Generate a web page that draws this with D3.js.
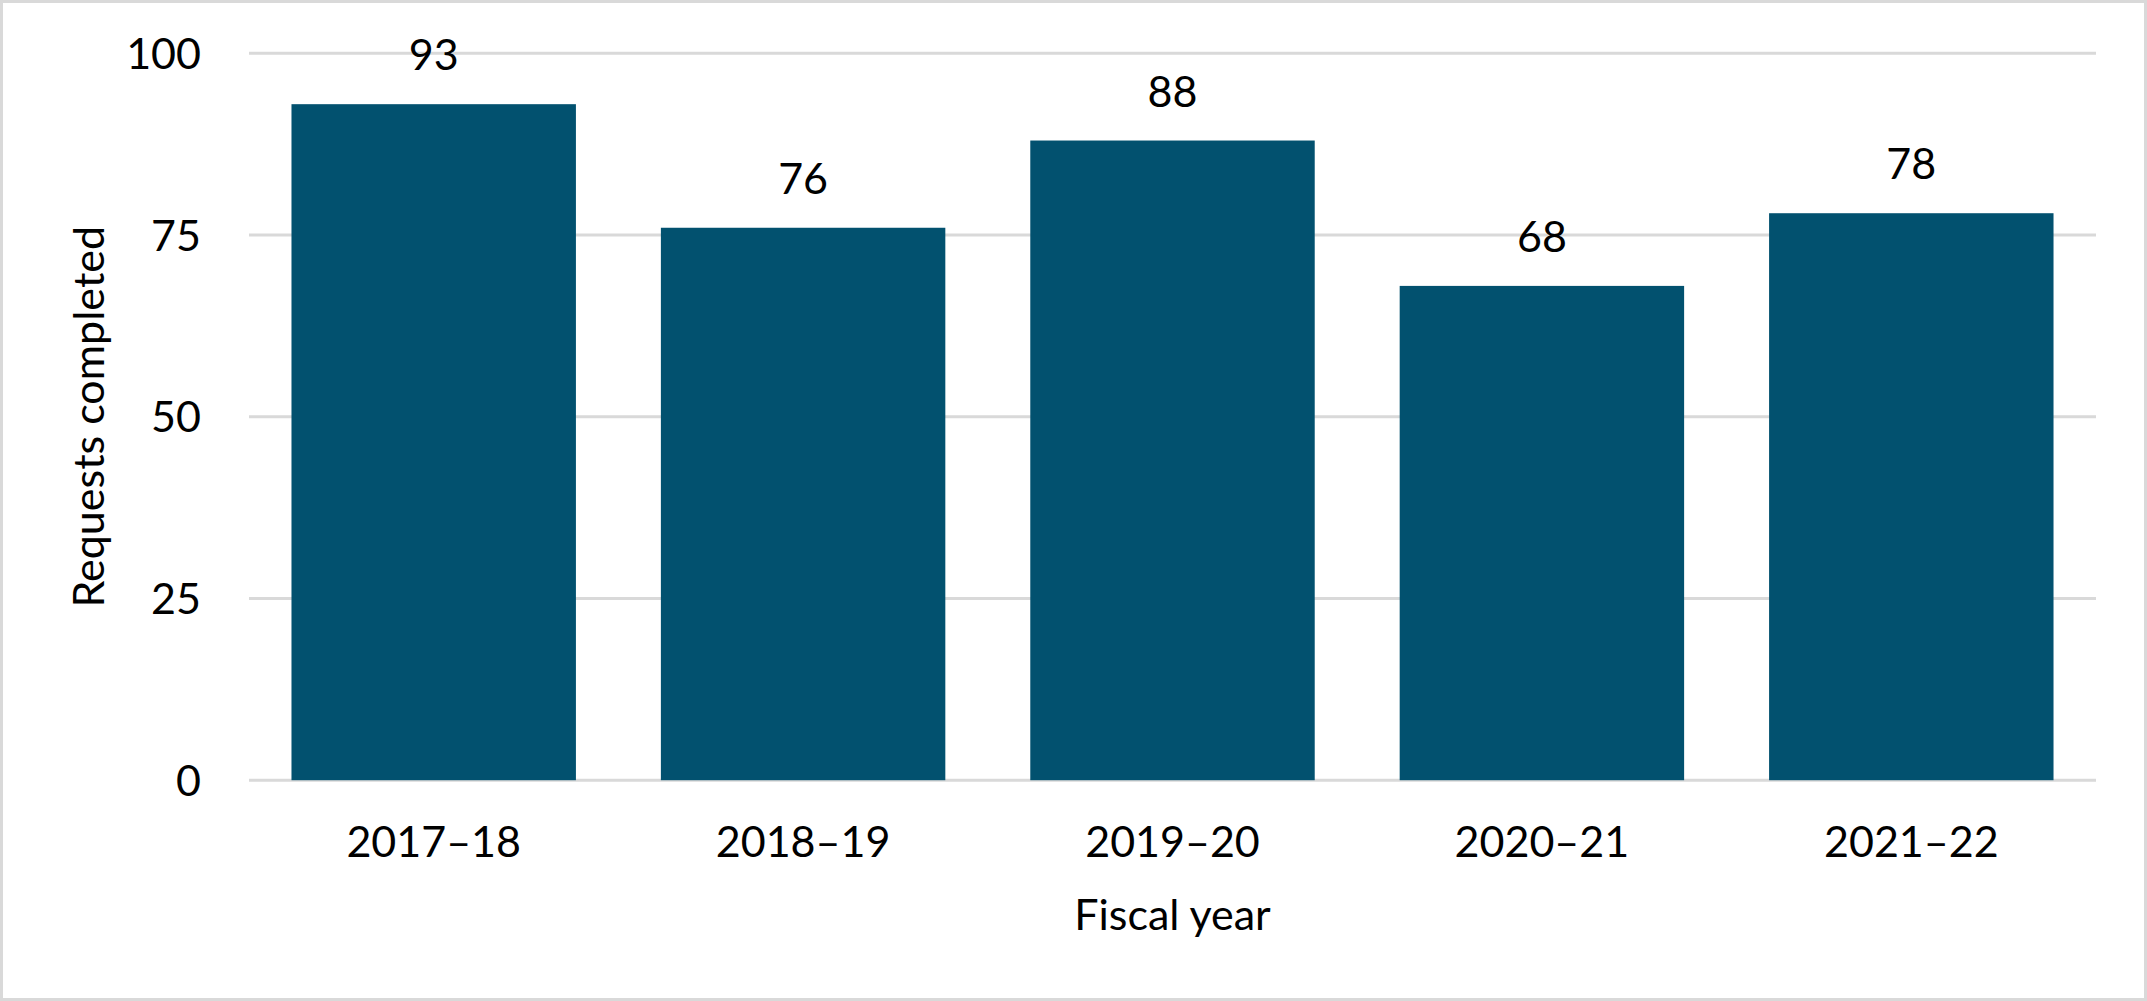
<!DOCTYPE html>
<html>
<head>
<meta charset="utf-8">
<script src="https://cdn.jsdelivr.net/npm/d3@7"></script>
<style>
  body { margin: 0; background: #fff; }
  text { font-family: Lato, "Open Sans", sans-serif; fill: #000; }
</style>
</head>
<body>
<div id="chart"></div>
<script>
var fiscalYears = ["2017–18", "2018–19", "2019–20", "2020–21", "2021–22"];
var requestsCompleted = [93, 76, 88, 68, 78];
var yTicks = [0, 25, 50, 75, 100];

var W = 2147, H = 1001;
var plot = { left: 249, right: 2096, top: 53.3, bottom: 780.2 };

var svg = d3.select("#chart").append("svg")
    .attr("width", W)
    .attr("height", H);

// outer frame
svg.append("rect")
    .attr("x", 1.5).attr("y", 1.5)
    .attr("width", W - 3).attr("height", H - 3)
    .attr("fill", "#fff")
    .attr("stroke", "#d9d9d9")
    .attr("stroke-width", 3);

var x = d3.scaleBand()
    .domain(fiscalYears)
    .range([plot.left, plot.right])
    .paddingInner(0.23)
    .paddingOuter(0.115);

var y = d3.scaleLinear()
    .domain([0, 100])
    .range([plot.bottom, plot.top]);

// gridlines
svg.append("g").selectAll("line")
    .data(yTicks)
    .enter()
    .append("line")
    .attr("x1", plot.left)
    .attr("x2", plot.right)
    .attr("y1", function (d) { return y(d); })
    .attr("y2", function (d) { return y(d); })
    .attr("stroke", "#d9d9d9")
    .attr("stroke-width", 3);

// y tick labels
svg.append("g").selectAll("text")
    .data(yTicks)
    .enter()
    .append("text")
    .attr("x", 201)
    .attr("y", function (d) { return y(d); })
    .attr("dy", "0.36em")
    .attr("text-anchor", "end")
    .attr("font-size", 43)
    .text(function (d) { return d; });

// bars
var data = fiscalYears.map(function (f, i) { return { year: f, value: requestsCompleted[i] }; });

svg.append("g").selectAll("rect")
    .data(data)
    .enter()
    .append("rect")
    .attr("x", function (d) { return x(d.year); })
    .attr("y", function (d) { return y(d.value); })
    .attr("width", x.bandwidth())
    .attr("height", function (d) { return y(0) - y(d.value); })
    .attr("fill", "#02516f");

// value labels
svg.append("g").selectAll("text")
    .data(data)
    .enter()
    .append("text")
    .attr("x", function (d) { return x(d.year) + x.bandwidth() / 2; })
    .attr("y", function (d) { return y(d.value) - 34; })
    .attr("text-anchor", "middle")
    .attr("font-size", 43)
    .text(function (d) { return d.value; });

// x labels
svg.append("g").selectAll("text")
    .data(fiscalYears)
    .enter()
    .append("text")
    .attr("x", function (d) { return x(d) + x.bandwidth() / 2; })
    .attr("y", 857)
    .attr("text-anchor", "middle")
    .attr("font-size", 43)
    .text(function (d) { return d; });

// axis titles
svg.append("text")
    .attr("x", (plot.left + plot.right) / 2)
    .attr("y", 930)
    .attr("text-anchor", "middle")
    .attr("font-size", 43)
    .text("Fiscal year");

svg.append("text")
    .attr("transform", "translate(104," + (plot.top + plot.bottom) / 2 + ") rotate(-90)")
    .attr("text-anchor", "middle")
    .attr("font-size", 43)
    .text("Requests completed");
</script>
</body>
</html>
